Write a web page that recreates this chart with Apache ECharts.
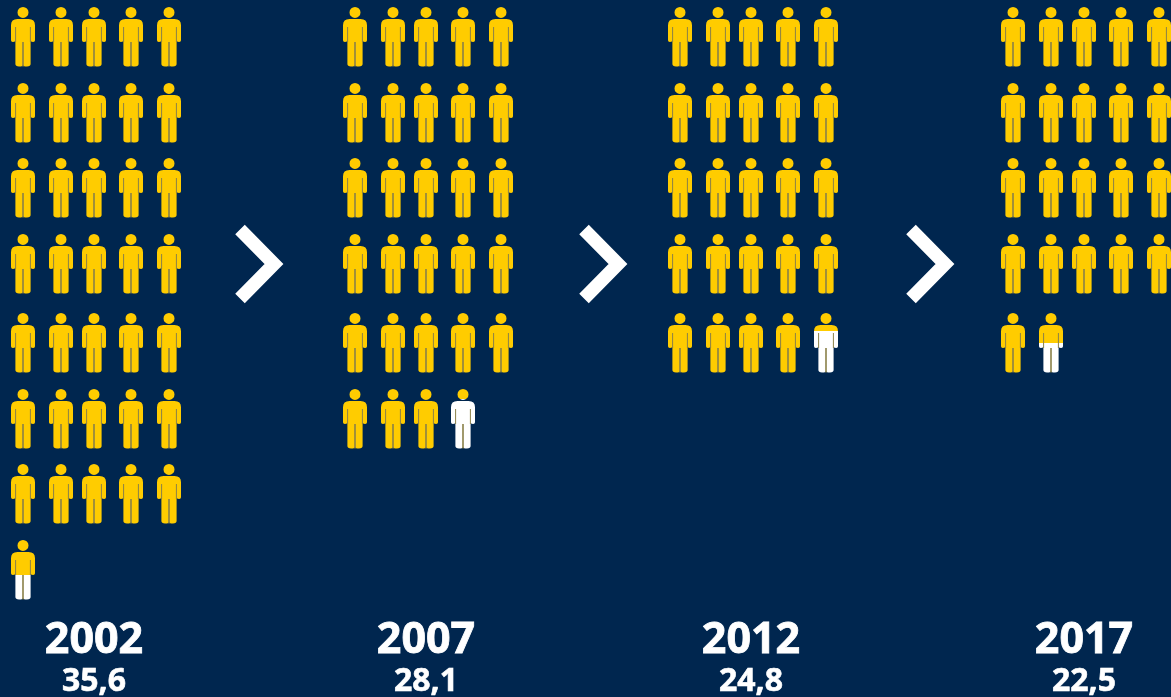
<!DOCTYPE html>
<html><head><meta charset="utf-8">
<style>html,body{margin:0;padding:0;background:#00264f}#c{width:1171px;height:697px}</style>
<script src="https://cdn.jsdelivr.net/npm/echarts@6/dist/echarts.min.js"></script>
</head><body><div id="c"></div>
<script>
// Data
const years = ['2002','2007','2012','2017'];
const valueLabels = ['35,6','28,1','24,8','22,5'];
const wholePersons = [35, 28, 24, 21];
const partialFill = [0.59, 0.17, 0.3, 0.5];

// Layout
const NAVY='#00264f', YELLOW='#ffcc00', WHITE='#ffffff', SLIT='#8a8048';
const yearX=[23,355,680,1013];
const colOffset=[0,38,71,108,146];
const rowTop=[7,83,158,234,313,389,464,540];
const arrowX=[260,604,931];
const PH=59.5, PW=24;
// person silhouette drawn in a 24x60 box
const personPath='M12 0a5.5 5.5 0 1 1 0 11a5.5 5.5 0 1 1 0-11Z'+
 'M6.5 12.2H17.5Q24 12.2 24 18.5V33.5Q24 35.3 22.2 35.3Q20.4 35.3 19.6 34.4V57.5Q19.6 60 16 60H14Q12.4 60 12 58.5Q11.6 60 10 60H8Q4.4 60 4.4 57.5V34.4Q3.6 35.3 1.8 35.3Q0 35.3 0 33.5V18.5Q0 12.2 6.5 12.2Z';

const people=[];
years.forEach((y,i)=>{
  for(let k=0;k<=wholePersons[i];k++){
    const col=k%5,row=Math.floor(k/5);
    const f=k<wholePersons[i]?1:partialFill[i];
    people.push([yearX[i]+colOffset[col],rowTop[row],f]);
  }
});
const arrows=arrowX.map(x=>[x,264]);

const chart=echarts.init(document.getElementById('c'),null,{renderer:'canvas'});
chart.setOption({
  backgroundColor:NAVY,animation:false,
  grid:{left:0,right:0,top:0,bottom:0},
  xAxis:{type:'value',min:0,max:1171,show:false},
  yAxis:{type:'value',min:0,max:697,inverse:true,show:false},
  series:[
   {type:'custom',coordinateSystem:'cartesian2d',data:people,clip:false,silent:true,
    renderItem(p,api){
      const c=api.coord([api.value(0),api.value(1)]);
      const f=api.value(2);
      const fill=f>=1?YELLOW:new echarts.graphic.LinearGradient(0,0,0,1,[
        {offset:0,color:YELLOW},{offset:f,color:YELLOW},{offset:f,color:WHITE},{offset:1,color:WHITE}]);
      const x0=c[0]-PW/2,y0=c[1];
      const slit=(x,y1,y2,w)=>({type:'line',shape:{x1:x0+x,y1:y0+y1,x2:x0+x,y2:y0+y2},style:{stroke:SLIT,lineWidth:w}});
      return {type:'group',children:[
        {type:'path',shape:{pathData:personPath,layout:'cover',x:x0,y:y0,width:PW,height:PH},style:{fill}},
        slit(4.6,20,35,1),slit(19.4,20,35,1),slit(12,35,59.5,1.6)
      ]};
    }},
   {type:'custom',coordinateSystem:'cartesian2d',data:arrows,clip:false,silent:true,
    renderItem(p,api){
      const c=api.coord([api.value(0),api.value(1)]);
      return {type:'polyline',shape:{points:[[c[0]-20,c[1]-34.5],[c[0]+14,c[1]],[c[0]-20,c[1]+34.5]]},
        style:{fill:null,stroke:WHITE,lineWidth:13.4,lineJoin:'miter',lineCap:'butt'}};
    }},
   {type:'custom',coordinateSystem:'cartesian2d',data:years.map((y,i)=>[yearX[i]+71,i]),clip:false,silent:true,
    renderItem(p,api){
      const i=api.value(1);
      const a=api.coord([api.value(0),641]),b=api.coord([api.value(0),682]);
      return {type:'group',children:[
       {type:'text',x:a[0],y:a[1],style:{text:years[i],fill:WHITE,stroke:WHITE,lineWidth:0.8,font:'700 43px "Open Sans"',align:'center',verticalAlign:'middle'}},
       {type:'text',x:b[0],y:b[1],style:{text:valueLabels[i],fill:WHITE,stroke:WHITE,lineWidth:0.6,font:'700 32px "Open Sans"',align:'center',verticalAlign:'middle'}}
      ]};
    }}
  ]
});
</script></body></html>
